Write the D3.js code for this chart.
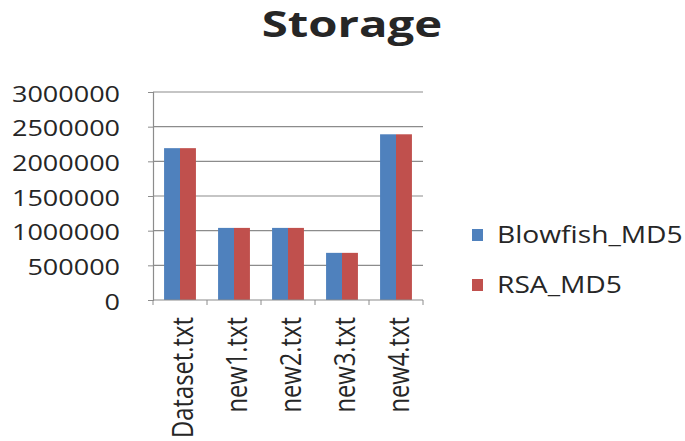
<!DOCTYPE html>
<html>
<head>
<meta charset="utf-8">
<script src="https://cdn.jsdelivr.net/npm/d3@7"></script>
<style>
  html, body { margin: 0; padding: 0; background: #fff; }
  svg { display: block; }
  text { font-family: "Open Sans", "Liberation Sans", sans-serif; fill: #262626; }
</style>
</head>
<body>
<svg id="chart" width="685" height="441"></svg>
<script>
// File sizes per input file, one array per scheme
const categories = ["Dataset.txt", "new1.txt", "new2.txt", "new3.txt", "new4.txt"];
const seriesNames = ["Blowfish_MD5", "RSA_MD5"];
const blowfishMD5 = [2190000, 1040000, 1040000, 680000, 2390000];
const rsaMD5 = [2190000, 1040000, 1040000, 680000, 2390000];
const yTicks = [0, 500000, 1000000, 1500000, 2000000, 2500000, 3000000];

const colors = ["#4F81BD", "#C0504D"];
const values = [blowfishMD5, rsaMD5];
const SX = 1.2; // horizontal widening applied to glyphs

const svg = d3.select("#chart");
const plot = { left: 153, right: 423, top: 92, bottom: 300 };

const x0 = d3.scaleBand()
  .domain(categories)
  .range([plot.left, plot.right])
  .paddingInner(0.41)
  .paddingOuter(0.205);

const x1 = d3.scaleBand()
  .domain(seriesNames)
  .range([0, x0.bandwidth()]);

const y = d3.scaleLinear()
  .domain([0, 3000000])
  .range([plot.bottom, plot.top]);

// horizontal gridlines
svg.append("g")
  .selectAll("line")
  .data(yTicks.filter(d => d > 0))
  .join("line")
  .attr("x1", plot.left).attr("x2", plot.right)
  .attr("y1", d => y(d)).attr("y2", d => y(d))
  .attr("stroke", "#8c8c8c").attr("stroke-width", 1.2);

// bars
const groups = svg.append("g")
  .selectAll("g")
  .data(categories)
  .join("g")
  .attr("transform", d => `translate(${x0(d)},0)`);

groups.selectAll("rect")
  .data((c, i) => seriesNames.map((s, k) => ({ s, v: values[k][i], k })))
  .join("rect")
  .attr("x", d => x1(d.s))
  .attr("y", d => y(d.v))
  .attr("width", x1.bandwidth())
  .attr("height", d => y(0) - y(d.v))
  .attr("fill", d => colors[d.k]);

// y axis
const yAxis = d3.axisLeft(y).tickValues(yTicks).tickSize(5).tickFormat(d3.format("d"));
const gy = svg.append("g").attr("transform", `translate(${plot.left},0)`).call(yAxis);
gy.select(".domain").attr("stroke", "#8c8c8c").attr("stroke-width", 1.2);
gy.selectAll(".tick line").attr("stroke", "#8c8c8c");
gy.selectAll(".tick text")
  .attr("x", null).attr("dy", null)
  .attr("font-size", 22.5)
  .attr("fill", "#262626")
  .attr("dominant-baseline", "central")
  .attr("text-anchor", "end")
  .attr("transform", `translate(${120 - plot.left},0) scale(${SX},1)`);

// x axis with ticks at category boundaries
svg.append("line")
  .attr("x1", plot.left).attr("x2", plot.right)
  .attr("y1", y(0)).attr("y2", y(0))
  .attr("stroke", "#8c8c8c").attr("stroke-width", 1.2);

const step = x0.step();
const bounds = categories.map(c => x0(c) - x0.paddingInner() * step / 2).concat([plot.right]);
svg.append("g")
  .selectAll("line")
  .data(bounds)
  .join("line")
  .attr("x1", d => d).attr("x2", d => d)
  .attr("y1", y(0)).attr("y2", y(0) + 5)
  .attr("stroke", "#8c8c8c");

// rotated category labels
svg.append("g")
  .selectAll("text")
  .data(categories)
  .join("text")
  .attr("transform", d => `translate(${x0(d) + x0.bandwidth() / 2 + 13},317) scale(${SX},1) rotate(-90)`)
  .attr("text-anchor", "end")
  .attr("font-size", 23.8)
  .text(d => d);

// title
svg.append("text")
  .attr("transform", `translate(352,37) scale(1.35,1)`)
  .attr("text-anchor", "middle")
  .attr("font-size", 35)
  .attr("font-weight", "bold")
  .attr("fill", "#000")
  .text("Storage");

// legend
const legend = svg.append("g")
  .selectAll("g")
  .data(seriesNames)
  .join("g")
  .attr("transform", (d, i) => `translate(472,${229 + i * 50})`);

legend.append("rect")
  .attr("width", 11).attr("height", 12)
  .attr("fill", (d, i) => colors[i]);

legend.append("text")
  .attr("transform", `translate(25,14) scale(${SX},1)`)
  .attr("font-size", 23.5)
  .text(d => d);
</script>
</body>
</html>
